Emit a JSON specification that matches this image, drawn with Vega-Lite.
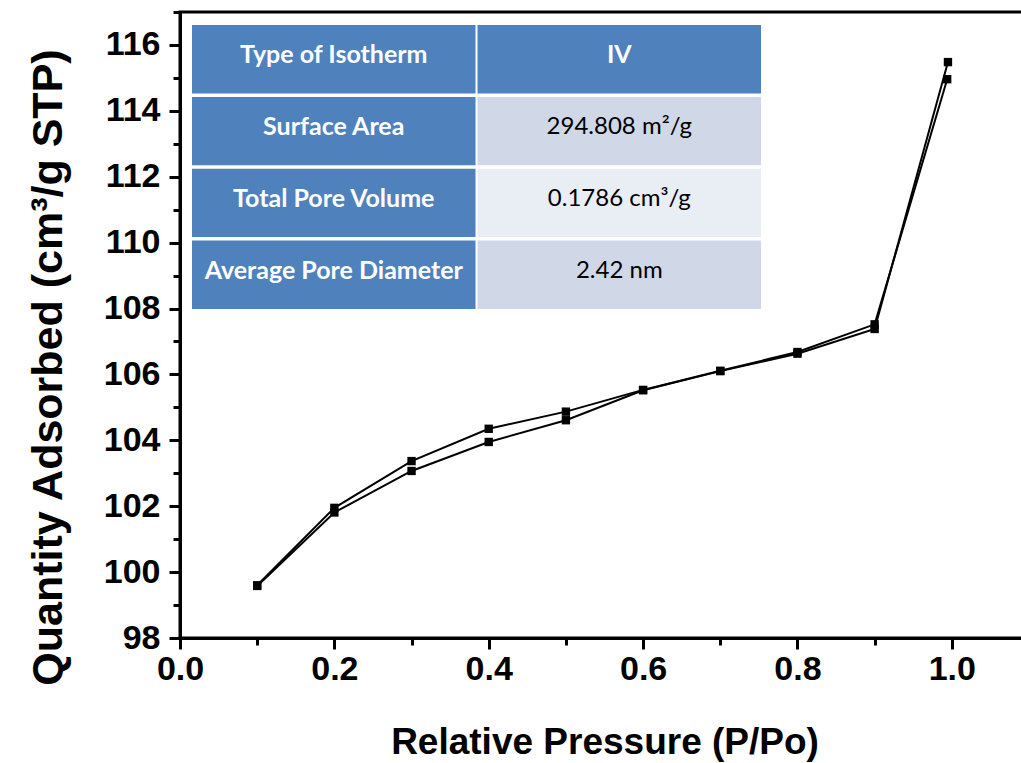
{
  "$schema": "https://vega.github.io/schema/vega-lite/v6.json",
  "width": 849,
  "height": 626,
  "autosize": {"type": "none"},
  "padding": {"left": 180, "top": 12, "right": 0, "bottom": 125},
  "background": "white",
  "config": {
    "view": {"stroke": "black", "strokeWidth": 3},
    "axis": {
      "domainColor": "black", "domainWidth": 3,
      "tickColor": "black", "tickWidth": 3,
      "labelFont": "Liberation Sans", "labelFontWeight": "bold", "labelColor": "black",
      "titleFont": "Liberation Sans", "titleFontWeight": "bold", "titleColor": "black",
      "grid": false
    }
  },
  "layer": [
    {
      "data": {"values": [
        {"branch": "Adsorption", "p": 0.1, "q": 99.58},
        {"branch": "Adsorption", "p": 0.2, "q": 101.81},
        {"branch": "Adsorption", "p": 0.3, "q": 103.07},
        {"branch": "Adsorption", "p": 0.4, "q": 103.95},
        {"branch": "Adsorption", "p": 0.5, "q": 104.61},
        {"branch": "Adsorption", "p": 0.6, "q": 105.52},
        {"branch": "Adsorption", "p": 0.7, "q": 106.10},
        {"branch": "Adsorption", "p": 0.8, "q": 106.63},
        {"branch": "Adsorption", "p": 0.9, "q": 107.38},
        {"branch": "Adsorption", "p": 0.995, "q": 115.48},
        {"branch": "Desorption", "p": 0.1, "q": 99.60},
        {"branch": "Desorption", "p": 0.2, "q": 101.95},
        {"branch": "Desorption", "p": 0.3, "q": 103.37},
        {"branch": "Desorption", "p": 0.4, "q": 104.35},
        {"branch": "Desorption", "p": 0.5, "q": 104.87},
        {"branch": "Desorption", "p": 0.6, "q": 105.53},
        {"branch": "Desorption", "p": 0.7, "q": 106.11},
        {"branch": "Desorption", "p": 0.8, "q": 106.68},
        {"branch": "Desorption", "p": 0.9, "q": 107.52},
        {"branch": "Desorption", "p": 0.994, "q": 114.96}
      ]},
      "encoding": {
        "x": {
          "field": "p", "type": "quantitative",
          "scale": {"domain": [0, 1.1], "nice": false, "zero": false},
          "axis": {
            "title": "Relative Pressure (P/Po)",
            "titleFontSize": 37, "titlePadding": 38,
            "labelFontSize": 34, "labelPadding": 3,
            "values": [0, 0.1, 0.2, 0.3, 0.4, 0.5, 0.6, 0.7, 0.8, 0.9, 1.0, 1.1],
            "labelExpr": "round(datum.value*10) % 2 === 0 ? format(datum.value, '.1f') : ''",
            "tickSize": {"condition": {"test": "round(datum.value*10) % 2 === 1", "value": 7}, "value": 11},
            "labelFlush": false, "labelOverlap": false
          }
        },
        "y": {
          "field": "q", "type": "quantitative",
          "scale": {"domain": [98, 117], "nice": false, "zero": false},
          "axis": {
            "title": "Quantity Adsorbed (cm³/g STP)",
            "titleFontSize": 43, "titlePadding": 33, "titleY": 355,
            "labelFontSize": 34, "labelPadding": 9,
            "values": [98, 99, 100, 101, 102, 103, 104, 105, 106, 107, 108, 109, 110, 111, 112, 113, 114, 115, 116, 117],
            "labelExpr": "datum.value % 2 === 0 ? format(datum.value, 'd') : ''",
            "tickSize": {"condition": {"test": "datum.value % 2 === 1", "value": 7}, "value": 11},
            "labelFlush": false, "labelOverlap": false
          }
        },
        "detail": {"field": "branch"}
      },
      "layer": [
        {"mark": {"type": "line", "color": "black", "strokeWidth": 2}},
        {"mark": {"type": "point", "shape": "square", "filled": true, "size": 70, "color": "black", "opacity": 1}}
      ]
    },
    {
      "data": {"values": [
        {"row": 1, "col": "name", "role": "header", "text": "Type of Isotherm"},
        {"row": 1, "col": "value", "role": "header", "text": "IV"},
        {"row": 2, "col": "name", "role": "header", "text": "Surface Area"},
        {"row": 2, "col": "value", "role": "value", "text": "294.808 m²/g"},
        {"row": 3, "col": "name", "role": "header", "text": "Total Pore Volume"},
        {"row": 3, "col": "value", "role": "value", "text": "0.1786 cm³/g"},
        {"row": 4, "col": "name", "role": "header", "text": "Average Pore Diameter"},
        {"row": 4, "col": "value", "role": "value", "text": "2.42 nm"}
      ]},
      "encoding": {
        "x": {"field": "col", "type": "nominal", "axis": null,
          "scale": {"type": "band", "domain": ["name", "value"], "paddingInner": 0.007, "paddingOuter": 0.4903, "align": 0.04286, "round": false}},
        "y": {"field": "row", "type": "ordinal", "axis": null,
          "scale": {"type": "band", "domain": [1, 2, 3, 4, 5, 6, 7, 8], "paddingInner": 0.0487, "paddingOuter": 0.38, "align": 0.2385, "round": false}}
      },
      "layer": [
        {"mark": {"type": "rect"},
          "encoding": {"color": {"condition": [
            {"test": "datum.role === 'header'", "value": "#4F81BD"},
            {"test": "datum.row % 2 === 0", "value": "#D0D8E8"}
          ], "value": "#E9EDF4"}}},
        {"transform": [{"filter": "datum.role === 'header'"}],
          "mark": {"type": "text", "font": "Lato", "fontWeight": "bold", "fontSize": 25, "color": "white", "dy": -4},
          "encoding": {"text": {"field": "text"}}},
        {"transform": [{"filter": "datum.role !== 'header'"}],
          "mark": {"type": "text", "font": "Lato", "fontSize": 24, "color": "black", "dy": -4},
          "encoding": {"text": {"field": "text"}}}
      ]
    }
  ],
  "resolve": {"scale": {"x": "independent", "y": "independent", "color": "independent"}}
}
